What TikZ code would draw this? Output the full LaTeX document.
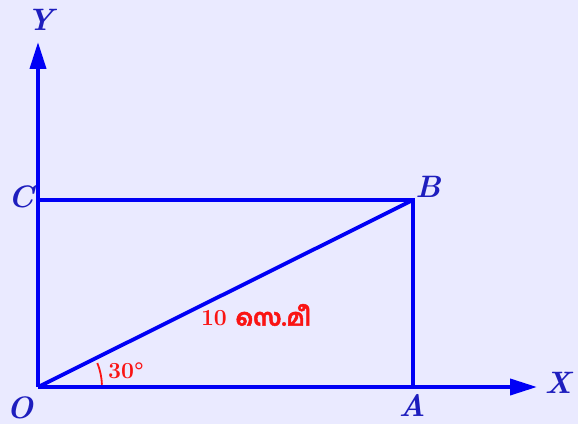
\documentclass[tikz,border=0pt]{standalone}
\usepackage{fontspec}
\usetikzlibrary{arrows.meta}
\newfontfamily\malfont[Script=Malayalam,FakeBold=2]{Hind Kochi}
\definecolor{bgc}{RGB}{234,234,255}
\definecolor{lineblue}{RGB}{0,0,245}
\definecolor{lblblue}{RGB}{30,30,190}
\definecolor{redtxt}{RGB}{250,20,20}
\tikzset{
  ln/.style={draw=lineblue, line width=3.8pt},
  axis/.style={ln, -{Triangle[length=27pt,width=16pt]}},
  lbl/.style={text=lblblue, font=\fontsize{31}{33}\selectfont\bfseries\itshape, inner sep=0pt},
  rtxt/.style={text=redtxt, inner sep=0pt}
}
\begin{document}
\begin{tikzpicture}[x=1pt,y=1pt]
\fill[bgc] (0,0) rectangle (578,424);
\useasboundingbox (0,0) rectangle (578,424);
\coordinate (O) at (38,37);
\coordinate (A) at (413,37);
\coordinate (B) at (413,224);
\coordinate (C) at (38,224);
\coordinate (Xe) at (537,37);
\coordinate (Ye) at (38,382);
\draw[axis] (O) -- (Xe);
\draw[axis] (O) -- (Ye);
\draw[ln] (C) -- (B) -- (A);
\draw[ln] (O) -- (B);
\draw[draw=redtxt, line width=1.8pt] ([shift={(2:64)}]O) arc[start angle=2, end angle=22, radius=64];
\node[lbl] (ly) at (40,404) {Y};
\node[lbl] (lx) at (558,41) {X};
\node[lbl] (lc) at (21,227) {C};
\node[lbl] (lb) at (428,237) {B};
\node[lbl] (lo) at (20,16) {O};
\node[lbl] (la) at (412,19) {A};
\node[rtxt, font=\fontsize{23}{26}\selectfont\bfseries] (ang) at (126,53) {30°};
\node[rtxt, font=\fontsize{23}{26}\selectfont\bfseries] (len) at (256,109) {10 {\malfont സെ.മീ}};
\end{tikzpicture}
\end{document}
